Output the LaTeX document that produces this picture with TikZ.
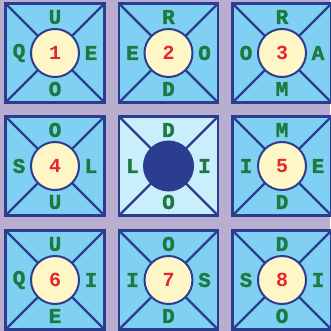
\documentclass[tikz,border=0pt]{standalone}
\usepackage{fontspec}
\newfontfamily\cellfont{Liberation Mono}[BoldFeatures={FakeBold=1.6}]
\newfontfamily\numfont{Liberation Mono}
\definecolor{bg}{HTML}{B9AECF}
\definecolor{cellblue}{HTML}{7FD0F2}
\definecolor{cellpale}{HTML}{CAEEFB}
\definecolor{bord}{HTML}{2B3D8F}
\definecolor{cream}{HTML}{FFF6C8}
\definecolor{numred}{HTML}{E5262A}
\definecolor{lettergreen}{HTML}{1B7B3F}
\begin{document}
\begin{tikzpicture}[x=1pt,y=-1pt,
  cellbox/.style={draw=bord, line width=2.6pt, fill=cellblue, minimum size=99pt, inner sep=0pt, outer sep=0pt},
  hub/.style={circle, draw=bord, line width=2pt, fill=cream, minimum size=48pt, inner sep=0pt, outer sep=0pt,
    font=\numfont\bfseries\fontsize{20}{20}\selectfont, text=numred},
  dothub/.style={circle, draw=bord, line width=2pt, fill=bord, minimum size=49pt, inner sep=0pt, outer sep=0pt},
  diag/.style={draw=bord, line width=2.4pt},
  letter/.style={font=\cellfont\bfseries\fontsize{21}{21}\selectfont, text=lettergreen, inner sep=0pt}]
\fill[bg] (0,0) rectangle (330,331);
\useasboundingbox (0,0) rectangle (330,331);
\foreach \i/\cx/\cy/\t/\l/\r/\b/\n in {
  1/55/53/U/Q/E/O/1, 2/168.5/53/R/E/O/D/2, 3/282/53/R/O/A/M/3,
  4/55/166/O/S/L/U/4, 6/282/166/M/I/E/D/5,
  7/55/280/U/Q/I/E/6, 8/168.5/280/O/I/S/D/7, 9/282/280/D/S/I/O/8} {
  \node[cellbox] (c\i) at (\cx,\cy) {};
  \node[hub] (o\i) at (\cx,\cy) {\n};
  \draw[diag] (c\i.north west) -- (o\i.north west);
  \draw[diag] (c\i.north east) -- (o\i.north east);
  \draw[diag] (c\i.south west) -- (o\i.south west);
  \draw[diag] (c\i.south east) -- (o\i.south east);
  \node[letter] (t\i) at (\cx,\cy-36) {\t};
  \node[letter] (l\i) at (\cx-36,\cy) {\l};
  \node[letter] (r\i) at (\cx+36,\cy) {\r};
  \node[letter] (b\i) at (\cx,\cy+36) {\b};
}
\node[cellbox, fill=cellpale] (c5) at (168.5,166) {};
\node[dothub] (o5) at (168.5,166) {};
\draw[diag] (c5.north west) -- (o5.north west);
\draw[diag] (c5.north east) -- (o5.north east);
\draw[diag] (c5.south west) -- (o5.south west);
\draw[diag] (c5.south east) -- (o5.south east);
\node[letter] (t5) at (168.5,130) {D};
\node[letter] (l5) at (132.5,166) {L};
\node[letter] (r5) at (204.5,166) {I};
\node[letter] (b5) at (168.5,202) {O};
\end{tikzpicture}
\end{document}
